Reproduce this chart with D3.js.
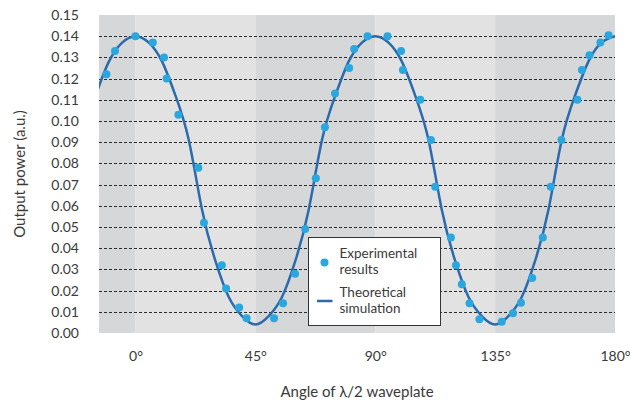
<!DOCTYPE html>
<html>
<head>
<meta charset="utf-8">
<script src="https://cdn.jsdelivr.net/npm/d3@7"></script>
<style>
    body { margin: 0; background: #ffffff; }
    text { font-family: "Source Sans Pro", "Lato", "Open Sans", sans-serif; fill: #3a3a3a; }
</style>
</head>
<body>
<div id="chart"></div>
<script>
// Measured points (angle in degrees, output power in a.u.)
var expAngles = [-10.9, -7.7, 0, 6.5, 10.7, 11.7, 16.1, 23.6, 25.7, 32.4, 34.0, 38.9, 41.7,
    52.0, 55.4, 59.9, 63.7, 67.7, 71.1, 74.9, 80.2, 82.1, 87.1, 94.6, 99.7, 100.4,
    106.9, 110.9, 112.5, 118.4, 120.3, 122.5, 125.4, 129.1, 137.5, 141.7, 144.7,
    148.9, 152.9, 155.9, 159.9, 165.9, 167.6, 170.4, 174.5, 177.6];
var expPower = [0.122, 0.133, 0.140, 0.137, 0.130, 0.120, 0.103, 0.078, 0.052, 0.032, 0.021, 0.012, 0.007,
    0.007, 0.014, 0.028, 0.049, 0.073, 0.097, 0.113, 0.125, 0.134, 0.140, 0.140, 0.133, 0.124,
    0.110, 0.091, 0.069, 0.045, 0.032, 0.023, 0.014, 0.0065, 0.0053, 0.0093, 0.0143,
    0.026, 0.045, 0.069, 0.091, 0.110, 0.124, 0.131, 0.137, 0.1405];

// Theoretical simulation, read every 5 degrees
var simAngles = [-15, -10, -5, 0, 5, 10, 15, 20, 25, 30, 35, 40, 45,
    50, 55, 60, 65, 70, 75, 80, 85, 90, 95, 100, 105, 110, 115, 120, 125, 130, 135,
    140, 145, 150, 155, 160, 165, 170, 175, 180];
var simPower = [0.112, 0.128, 0.137, 0.140, 0.137, 0.128, 0.112, 0.091, 0.058, 0.034, 0.017, 0.008, 0.004,
    0.008, 0.017, 0.034, 0.058, 0.091, 0.112, 0.128, 0.137, 0.140, 0.137, 0.128, 0.112, 0.091, 0.058, 0.034, 0.017, 0.008, 0.004,
    0.008, 0.017, 0.034, 0.058, 0.091, 0.112, 0.128, 0.137, 0.140];

var xTicks = [0, 45, 90, 135, 180];
var xTickLabels = ["0°", "45°", "90°", "135°", "180°"];
var yTicks = [0, 0.01, 0.02, 0.03, 0.04, 0.05, 0.06, 0.07, 0.08, 0.09, 0.10, 0.11, 0.12, 0.13, 0.14, 0.15];
var gridValues = [0.01, 0.02, 0.03, 0.04, 0.05, 0.06, 0.07, 0.08, 0.09, 0.10, 0.11, 0.12, 0.13, 0.14];
var bandEdges = [-13.7, 0, 45, 90, 135, 180];

var svgWidth = 630;
var svgHeight = 403;

var margin = {
    top: 15,
    right: 15,
    bottom: 70,
    left: 99
}

var width = svgWidth - margin.left - margin.right;
var height = svgHeight - margin.top - margin.bottom;

var svg = d3.select("#chart")
    .append("svg")
    .attr("width", svgWidth)
    .attr("height", svgHeight);

var chartGroup = svg.append("g")
    .attr("transform", `translate(${margin.left}, ${margin.top})`);

var xScale = d3.scaleLinear()
    .domain([-13.7, 180])
    .range([0, width]);

var yScale = d3.scaleLinear()
    .domain([0, 0.15])
    .range([height, 0]);

// Alternating background bands, one per 45 degrees
var bands = d3.pairs(bandEdges);
chartGroup.selectAll(".band")
    .data(bands)
    .enter()
    .append("rect")
    .attr("x", d => xScale(d[0]))
    .attr("y", 0)
    .attr("width", d => xScale(d[1]) - xScale(d[0]))
    .attr("height", height)
    .attr("fill", (d, i) => i % 2 == 0 ? "#d6d7d9" : "#e2e2e2");

// Dashed grid lines
chartGroup.selectAll(".grid")
    .data(gridValues)
    .enter()
    .append("line")
    .attr("x1", 0)
    .attr("x2", width)
    .attr("y1", d => Math.round(yScale(d)) + 0.5)
    .attr("y2", d => Math.round(yScale(d)) + 0.5)
    .attr("stroke", "#2b2b2b")
    .attr("stroke-width", 1)
    .attr("stroke-dasharray", "3,2");

// Axes (labels only, no domain line or ticks)
var leftAxis = d3.axisLeft(yScale)
    .tickValues(yTicks)
    .tickFormat(d3.format(".2f"))
    .tickSize(0)
    .tickPadding(20);

var bottomAxis = d3.axisBottom(xScale)
    .tickValues(xTicks)
    .tickFormat((d, i) => xTickLabels[i])
    .tickSize(0)
    .tickPadding(18);

var yAxis = chartGroup.append("g")
    .call(leftAxis);

var xAxis = chartGroup.append("g")
    .attr("transform", `translate(0, ${height})`)
    .call(bottomAxis);

[xAxis, yAxis].forEach(function(ax) {
    ax.select(".domain").remove();
    ax.selectAll("text")
        .attr("font-size", 14)
        .attr("font-family", null)
        .style("fill", "#3a3a3a");
});

// Clip the simulated curve to the plot area
svg.append("defs").append("clipPath")
    .attr("id", "plotClip")
    .append("rect")
    .attr("width", width)
    .attr("height", height);

var simData = simAngles.map((a, i) => [a, simPower[i]]);
var line = d3.line()
    .x(d => xScale(d[0]))
    .y(d => yScale(d[1]))
    .curve(d3.curveNatural);

chartGroup.append("path")
    .datum(simData)
    .attr("clip-path", "url(#plotClip)")
    .attr("d", line)
    .attr("fill", "none")
    .attr("stroke", "#2a6aad")
    .attr("stroke-width", 2.5);

var expData = expAngles.map((a, i) => [a, expPower[i]]);
chartGroup.selectAll("circle")
    .data(expData)
    .enter()
    .append("circle")
    .attr("cx", d => xScale(d[0]))
    .attr("cy", d => yScale(d[1]))
    .attr("r", 4)
    .attr("fill", "#2aa7de");

// Axis titles
svg.append("text")
    .attr("x", margin.left + width / 2)
    .attr("y", 397)
    .attr("text-anchor", "middle")
    .attr("font-size", 15)
    .text("Angle of λ/2 waveplate");

svg.append("text")
    .attr("transform", "rotate(-90)")
    .attr("x", -(margin.top + height / 2))
    .attr("y", 25)
    .attr("text-anchor", "middle")
    .attr("font-size", 15)
    .text("Output power (a.u.)");

// Legend
var legend = svg.append("g")
    .attr("transform", "translate(308.5, 237.5)");

legend.append("rect")
    .attr("width", 132)
    .attr("height", 88)
    .attr("fill", "#ffffff")
    .attr("stroke", "#333333")
    .attr("stroke-width", 1);

legend.append("circle")
    .attr("cx", 16)
    .attr("cy", 25)
    .attr("r", 4)
    .attr("fill", "#2aa7de");

legend.append("line")
    .attr("x1", 8.5)
    .attr("x2", 24)
    .attr("y1", 63.5)
    .attr("y2", 63.5)
    .attr("stroke", "#2a6aad")
    .attr("stroke-width", 2.5);

var legendLines = [["Experimental", 20], ["results", 36.5], ["Theoretical", 59], ["simulation", 75.5]];
legend.selectAll(".legendText")
    .data(legendLines)
    .enter()
    .append("text")
    .attr("x", 31)
    .attr("y", d => d[1])
    .attr("font-size", 13.5)
    .text(d => d[0]);
</script>
</body>
</html>
